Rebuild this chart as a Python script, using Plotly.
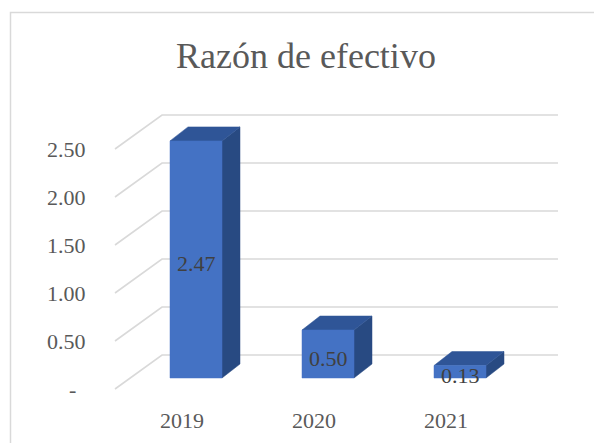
import plotly.graph_objects as go

# ---- data ----
categories = ["2019", "2020", "2021"]
values = [2.47, 0.50, 0.13]
value_labels = ["2.47", "0.50", "0.13"]
tick_values = [0.0, 0.5, 1.0, 1.5, 2.0, 2.5]
tick_labels = ["-", "0.50", "1.00", "1.50", "2.00", "2.50"]
title_text = "Razón de efectivo"

# ---- geometry (axis units: 1 x-unit = 132 px, 1 y-unit = 96 px) ----
W, H = 594, 443
PX_X, PX_Y = 132.0, 96.0
X0_PX, Y0_PX = 196.0, 378.0          # pixel of (x=0, y=0)
half_w = 26 / PX_X                   # half bar width
dx, dy = 18 / PX_X, 14 / PX_Y        # bar depth offset
g_front_x = (115 - X0_PX) / PX_X     # gridline front-left
g_back_x = (162 - X0_PX) / PX_X
g_right_x = (558 - X0_PX) / PX_X
g_front_dy = (Y0_PX - 389) / PX_Y
g_back_dy = (Y0_PX - 355) / PX_Y

FONT = "Liberation Serif, Times New Roman, serif"
GRID = "#D9D9D9"
FRONT = "#4472C4"
TOP = "#2F5597"
SIDE = "#284A82"

fig = go.Figure()

# gridlines (back wall + slanted side wall)
gx, gy = [], []
for v in tick_values:
    gx += [g_front_x, g_back_x, g_right_x, None]
    gy += [v + g_front_dy, v + g_back_dy, v + g_back_dy, None]
fig.add_trace(go.Scatter(x=gx, y=gy, mode="lines",
                         line=dict(color=GRID, width=1.6),
                         hoverinfo="skip", showlegend=False))

xs = list(range(len(categories)))
for i, v in zip(xs, values):
    l, r = i - half_w, i + half_w
    # side face
    fig.add_trace(go.Scatter(
        x=[r, r, r + dx, r + dx, r], y=[0, v, v + dy, dy, 0],
        fill="toself", fillcolor=SIDE, mode="lines",
        line=dict(color=SIDE, width=0.5), hoverinfo="skip", showlegend=False))
    # top face
    fig.add_trace(go.Scatter(
        x=[l, l + dx, r + dx, r, l], y=[v, v + dy, v + dy, v, v],
        fill="toself", fillcolor=TOP, mode="lines",
        line=dict(color=TOP, width=0.5), hoverinfo="skip", showlegend=False))
    # front face
    fig.add_trace(go.Scatter(
        x=[l, l, r, r, l], y=[0, v, v, 0, 0],
        fill="toself", fillcolor=FRONT, mode="lines",
        line=dict(color=FRONT, width=0.5), name=categories[i],
        hoverinfo="skip", showlegend=False))

annotations = []
# data labels (centred on the bar front)
for i, v, t in zip(xs, values, value_labels):
    annotations.append(dict(x=i, y=v / 2, xref="x", yref="y", text=t,
                            showarrow=False, xanchor="center",
                            yanchor="middle", yshift=-4,
                            font=dict(family=FONT, size=22, color="#404040")))
# value axis tick labels
for v, t in zip(tick_values, tick_labels):
    shift = -27 if t != "-" else -37
    annotations.append(dict(x=g_front_x, y=v + g_front_dy, xref="x", yref="y",
                            text=t, showarrow=False, xanchor="right",
                            yanchor="middle", xshift=shift,
                            font=dict(family=FONT, size=22, color="#595959")))
# category labels
for i, c in zip(xs, categories):
    annotations.append(dict(x=i - 14 / PX_X, y=(Y0_PX - 420) / PX_Y,
                            xref="x", yref="y", text=c, showarrow=False,
                            xanchor="center", yanchor="middle",
                            font=dict(family=FONT, size=22, color="#595959")))
# title
annotations.append(dict(x=306 / W, y=1 - 56 / H, xref="paper", yref="paper",
                        text=title_text, showarrow=False, xanchor="center",
                        yanchor="middle",
                        font=dict(family=FONT, size=36, color="#595959")))

fig.update_layout(
    width=W, height=H,
    margin=dict(l=0, r=0, t=0, b=0),
    paper_bgcolor="white", plot_bgcolor="white",
    font=dict(family=FONT),
    xaxis=dict(range=[-X0_PX / PX_X, (W - X0_PX) / PX_X], visible=False,
               fixedrange=True),
    yaxis=dict(range=[(Y0_PX - H) / PX_Y, Y0_PX / PX_Y], visible=False,
               fixedrange=True),
    annotations=annotations,
    shapes=[dict(type="rect", xref="paper", yref="paper",
                 x0=10.5 / W, x1=1.05, y0=-0.05, y1=1 - 12.5 / H,
                 line=dict(color=GRID, width=1.5), fillcolor="rgba(0,0,0,0)",
                 layer="below")],
)

fig.write_html("out.html",
               config={"displayModeBar": False},
               post_script="document.body.style.margin='0';"
                           "document.body.style.overflow='hidden';")
